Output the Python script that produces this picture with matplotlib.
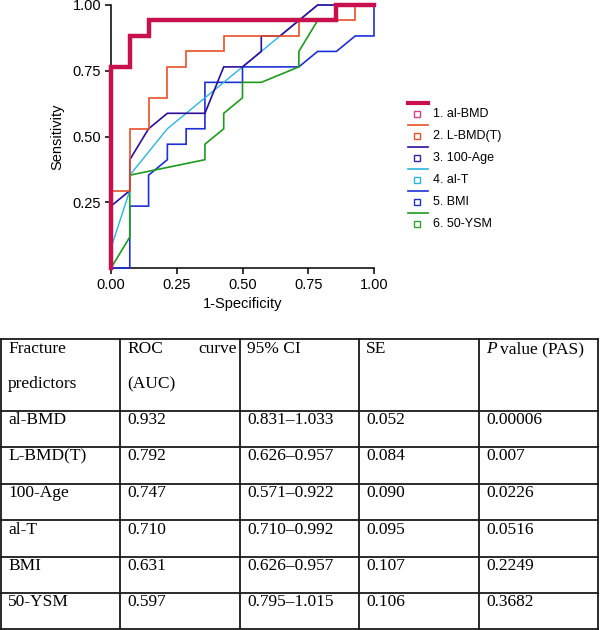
import matplotlib
matplotlib.use("Agg")
import matplotlib.pyplot as plt
from matplotlib.lines import Line2D

plt.rcParams['font.family'] = ['Liberation Sans', 'DejaVu Sans']

# ROC curves (x = 1-specificity, 14 negatives; y = sensitivity, 17 positives)
n, p = 14, 17
names = ['1. al-BMD', '2. L-BMD(T)', '3. 100-Age', '4. al-T', '5. BMI', '6. 50-YSM']
colors = ['#C8104E', '#E8502A', '#2E0D9A', '#29B5E0', '#1F2FD6', '#1E9A1E']
marker_colors = ['#D0408A', '#E8502A', '#3A20B0', '#29B5E0', '#2030D0', '#30A030']
widths = [3.2, 1.2, 1.2, 1.0, 1.2, 1.2]

fpr_albmd = [0, 0, 1, 1, 2, 2, 12, 12, 14]
tpr_albmd = [0, 13, 13, 15, 15, 16, 16, 17, 17]

fpr_lbmd = [0, 0, 1, 1, 2, 2, 3, 3, 4, 4, 6, 6, 10, 10, 13, 13, 14]
tpr_lbmd = [0, 5, 5, 9, 9, 11, 11, 13, 13, 14, 14, 15, 15, 16, 16, 17, 17]

fpr_age = [0, 1, 1, 2, 3, 5, 6, 7, 8, 8, 9, 10, 11, 14]
tpr_age = [4, 5, 7, 9, 10, 10, 13, 13, 14, 15, 15, 16, 17, 17]

fpr_alt = [0, 1, 1, 3, 7, 11, 14]
tpr_alt = [1.3, 5, 6, 9, 13, 17, 17]

fpr_bmi = [0, 1, 1, 2, 2, 3, 3, 4, 4, 5, 5, 7, 7, 10, 11, 12, 13, 14, 14]
tpr_bmi = [0, 0, 4, 4, 6, 7, 8, 8, 9, 9, 12, 12, 13, 13, 14, 14, 15, 15, 17]

fpr_ysm = [0, 1, 1, 5, 5, 6, 6, 7, 7, 8, 10, 10, 11, 12, 12, 14]
tpr_ysm = [0, 2, 6, 7, 8, 9, 10, 11, 12, 12, 13, 14, 16, 16, 17, 17]

curves = [(fpr_albmd, tpr_albmd), (fpr_lbmd, tpr_lbmd), (fpr_age, tpr_age),
          (fpr_alt, tpr_alt), (fpr_bmi, tpr_bmi), (fpr_ysm, tpr_ysm)]

# table
predictors = ['al-BMD', 'L-BMD(T)', '100-Age', 'al-T', 'BMI', '50-YSM']
auc = ['0.932', '0.792', '0.747', '0.710', '0.631', '0.597']
ci = ['0.831–1.033', '0.626–0.957', '0.571–0.922', '0.710–0.992', '0.626–0.957', '0.795–1.015']
se = ['0.052', '0.084', '0.090', '0.095', '0.107', '0.106']
pval = ['0.00006', '0.007', '0.0226', '0.0516', '0.2249', '0.3682']

W, H = 600, 630
fig = plt.figure(figsize=(6, 6.3), dpi=100)

ax = fig.add_axes([111 / W, 1 - 268 / H, 263 / W, 263 / H])
# draw back to front so the thick al-BMD line sits on top
for i in [4, 5, 3, 2, 1, 0]:
    xs, ys = curves[i]
    ax.plot([x / n for x in xs], [y / p for y in ys], color=colors[i],
            lw=widths[i], solid_joinstyle='miter', clip_on=False, zorder=3 + (i == 0))

ax.set_xlim(0, 1)
ax.set_ylim(0, 1)
ax.set_xticks([0, 0.25, 0.5, 0.75, 1.0])
ax.set_xticklabels(['0.00', '0.25', '0.50', '0.75', '1.00'])
ax.set_yticks([0.25, 0.5, 0.75, 1.0])
ax.set_yticklabels(['0.25', '0.50', '0.75', '1.00'])
ax.tick_params(labelsize=10.5, length=4, width=1.1, pad=3)
for s in ['top', 'right']:
    ax.spines[s].set_visible(False)
for s in ['left', 'bottom']:
    ax.spines[s].set_linewidth(1.1)
ax.set_xlabel('1-Specificity', fontsize=10.5, labelpad=4)
ax.set_ylabel('Sensitivity', fontsize=10.5, labelpad=6)

# legend: line above, small square marker with label below
for i, name in enumerate(names):
    yl = 1 - (103 + 22 * i) / H
    ym = 1 - (114 + 22 * i) / H
    lw = 3.0 if i == 0 else 1.2
    fig.add_artist(Line2D([408 / W, 428 / W], [yl, yl], color=colors[i], lw=lw,
                          transform=fig.transFigure))
    fig.add_artist(Line2D([417 / W], [ym], marker='s', ms=4.5, mfc='none',
                          mec=marker_colors[i], mew=1.0, ls='none',
                          transform=fig.transFigure))
    fig.text(433 / W, ym, name, fontsize=9, va='center', ha='left')

# table drawn in pixel coordinates
tax = fig.add_axes([0, 0, 1, 1])
tax.set_xlim(0, W)
tax.set_ylim(H, 0)
tax.axis('off')
col_x = [1, 120, 240, 359, 479, 598]
row_y = [339, 411, 447, 483.5, 520, 556.5, 593, 629]
lc = '#1a1a1a'
for y in row_y:
    tax.plot([col_x[0], col_x[-1]], [y, y], color=lc, lw=1.3, solid_capstyle='projecting')
for x in col_x:
    tax.plot([x, x], [row_y[0], row_y[-1]], color=lc, lw=1.3, solid_capstyle='projecting')

serif = ['Liberation Serif', 'DejaVu Serif']
fs = 12.5
pad = 7
# header
tax.text(col_x[0] + pad, 349, 'Fracture', fontsize=fs, family=serif, va='center')
tax.text(col_x[0] + pad, 384, 'predictors', fontsize=fs, family=serif, va='center')
tax.text(col_x[1] + pad, 349, 'ROC', fontsize=fs, family=serif, va='center')
tax.text(col_x[2] - 3, 349, 'curve', fontsize=fs, family=serif, va='center', ha='right')
tax.text(col_x[1] + pad, 384, '(AUC)', fontsize=fs, family=serif, va='center')
tax.text(col_x[2] + pad, 349, '95% CI', fontsize=fs, family=serif, va='center')
tax.text(col_x[3] + pad, 349, 'SE', fontsize=fs, family=serif, va='center')
tax.text(col_x[4] + pad, 349, 'P', fontsize=fs, family=serif, style='italic', va='center')
tax.text(col_x[4] + pad + 14, 349, 'value (PAS)', fontsize=fs, family=serif, va='center')

for r in range(len(predictors)):
    yc = row_y[r + 1] + 9.5
    for c, val in enumerate([predictors[r], auc[r], ci[r], se[r], pval[r]]):
        tax.text(col_x[c] + pad, yc, val, fontsize=fs, family=serif, va='center')

fig.savefig('out.png', dpi=100)
